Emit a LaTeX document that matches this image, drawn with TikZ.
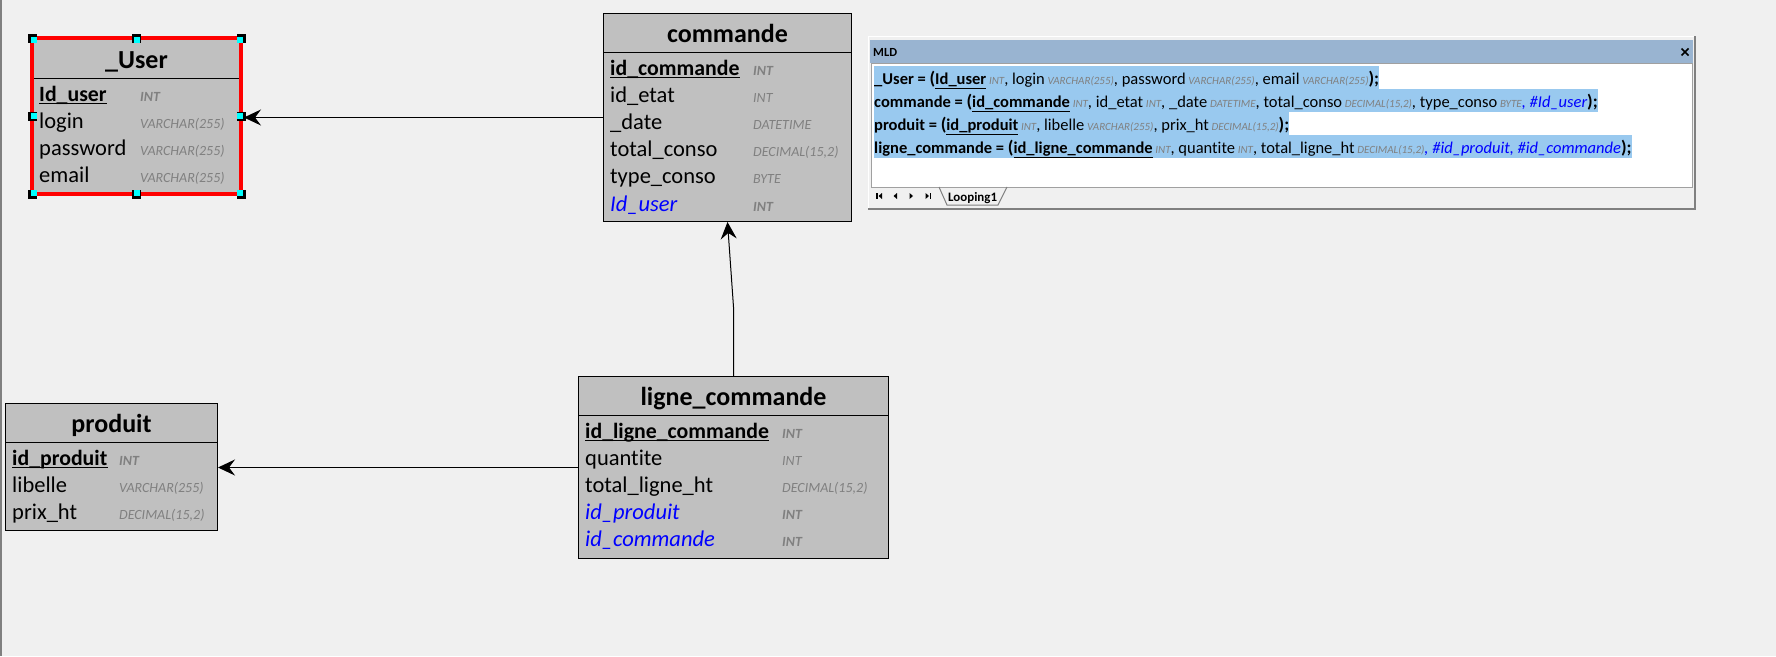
\documentclass[tikz,border=0pt]{standalone}
\usepackage{fontspec}
\setmainfont{Carlito}[Ligatures=NoCommon]
\usetikzlibrary{arrows.meta,calc}
\definecolor{bg}{HTML}{F0F0F0}
\definecolor{tgray}{HTML}{C0C0C0}
\definecolor{typegray}{HTML}{808080}
\definecolor{fkblue}{HTML}{0000FF}
\definecolor{selred}{HTML}{FF0000}
\definecolor{handlecyan}{HTML}{00FFFF}
\definecolor{titlebar}{HTML}{99B4D1}
\definecolor{hl}{HTML}{99C9EF}
\definecolor{framegray}{HTML}{808080}
\definecolor{boxgray}{HTML}{A0A0A0}
\newcommand\mty[1]{\,{\fontsize{11}{12}\selectfont\itshape\color{typegray}#1}}
\newcommand\mkey[1]{\underline{\textbf{#1}}}
\newcommand\mpar[1]{{\fontsize{18}{20}\selectfont\bfseries #1}}
\tikzset{
 tbl/.style={draw=black, line width=1pt, fill=tgray, inner sep=0pt, anchor=north west},
 ttl/.style={font=\fontsize{26}{30}\selectfont\bfseries, anchor=base, inner sep=0pt},
 fname/.style={font=\fontsize{22.5}{26}\selectfont, anchor=base west, inner sep=0pt},
 pkname/.style={font=\fontsize{21.8}{26}\selectfont\bfseries, anchor=base west, inner sep=0pt},
 fkname/.style={font=\fontsize{22.5}{26}\selectfont\itshape, text=fkblue, anchor=base west, inner sep=0pt},
 ftype/.style={font=\fontsize{14}{16}\selectfont\itshape, text=typegray, anchor=base west, inner sep=0pt},
 ktype/.style={font=\fontsize{14}{16}\selectfont\itshape\bfseries, text=typegray, anchor=base west, inner sep=0pt},
 pkline/.style={line width=1.4pt},
 rel/.style={draw=black, line width=1pt, -{Stealth[length=17pt,width=16pt,inset=6pt]}},
 mld/.style={font=\fontsize{16.5}{20}\selectfont, anchor=base west, inner sep=0pt, fill=hl, text height=18pt, text depth=5pt},
 navicon/.style={fill=black},
}
\begin{document}
\begin{tikzpicture}[x=1pt,y=-1pt]
\useasboundingbox (0,0) rectangle (1776,656);
\fill[bg] (0,0) rectangle (1776,656);
\draw[framegray, line width=2pt] (1.2,0) -- (1.2,656);

% ---------- _User ----------
\node[tbl, minimum width=208pt, minimum height=155pt] (user) at (32,38) {};
\draw[line width=1pt] ($(user.north west)+(0,40)$) -- ($(user.north east)+(0,40)$);
\node[ttl] (userT) at ($(user.north)+(0,30)$) {\_User};
\node[pkname] (u1) at (39,101) {Id\_user};
\draw[pkline] ($(u1.base west)+(0,2.5)$) -- ($(u1.base east)+(0,2.5)$);
\node[ktype] (u1t) at (140,101) {INT};
\node[fname] (u2) at (39,128.2) {login};
\node[ftype] (u2t) at (140,128.2) {VARCHAR(255)};
\node[fname] (u3) at (39,155.4) {password};
\node[ftype] (u3t) at (140,155.4) {VARCHAR(255)};
\node[fname] (u4) at (39,182.6) {email};
\node[ftype] (u4t) at (140,182.6) {VARCHAR(255)};
\draw[selred, line width=3.5pt] (user.north west) rectangle (user.south east);
\foreach \p/\dx/\dy in {north west/1/1, north/0/1, north east/-1/1, east/-1/0, south east/-1/-1, south/0/-1, south west/1/-1, west/1/0}{
  \fill[black] ($(user.\p)+(-4.5,-4.5)$) rectangle ++(9,9);
  \fill[handlecyan] ($(user.\p)+(\dx*1.5-3,\dy*1.5-3)$) rectangle ++(6,6);
}

% ---------- commande ----------
\node[tbl, minimum width=248pt, minimum height=208pt] (cmd) at (603,13) {};
\draw[line width=1pt] ($(cmd.north west)+(0,39)$) -- ($(cmd.north east)+(0,39)$);
\node[ttl] (cmdT) at ($(cmd.north)+(0,29)$) {commande};
\node[pkname] (c1) at (610,75) {id\_commande};
\draw[pkline] ($(c1.base west)+(0,2.5)$) -- ($(c1.base east)+(0,2.5)$);
\node[ktype] (c1t) at (753,75) {INT};
\node[fname] (c2) at (610,102.2) {id\_etat};
\node[ftype] (c2t) at (753,102.2) {INT};
\node[fname] (c3) at (610,129.4) {\_date};
\node[ftype] (c3t) at (753,129.4) {DATETIME};
\node[fname] (c4) at (610,156.6) {total\_conso};
\node[ftype] (c4t) at (753,156.6) {DECIMAL(15,2)};
\node[fname] (c5) at (610,183.8) {type\_conso};
\node[ftype] (c5t) at (753,183.8) {BYTE};
\node[fkname] (c6) at (610,211) {Id\_user};
\node[ktype] (c6t) at (753,211) {INT};

% ---------- produit ----------
\node[tbl, minimum width=212pt, minimum height=127pt] (prod) at (5,403) {};
\draw[line width=1pt] ($(prod.north west)+(0,39)$) -- ($(prod.north east)+(0,39)$);
\node[ttl] (prodT) at ($(prod.north)+(0,29)$) {produit};
\node[pkname] (p1) at (12,465) {id\_produit};
\draw[pkline] ($(p1.base west)+(0,2.5)$) -- ($(p1.base east)+(0,2.5)$);
\node[ktype] (p1t) at (119,465) {INT};
\node[fname] (p2) at (12,492.2) {libelle};
\node[ftype] (p2t) at (119,492.2) {VARCHAR(255)};
\node[fname] (p3) at (12,519.4) {prix\_ht};
\node[ftype] (p3t) at (119,519.4) {DECIMAL(15,2)};

% ---------- ligne_commande ----------
\node[tbl, minimum width=310pt, minimum height=182pt] (lc) at (578,376) {};
\draw[line width=1pt] ($(lc.north west)+(0,39)$) -- ($(lc.north east)+(0,39)$);
\node[ttl] (lcT) at ($(lc.north)+(0,29)$) {ligne\_commande};
\node[pkname] (l1) at (585,438) {id\_ligne\_commande};
\draw[pkline] ($(l1.base west)+(0,2.5)$) -- ($(l1.base east)+(0,2.5)$);
\node[ktype] (l1t) at (782,438) {INT};
\node[fname] (l2) at (585,465.2) {quantite};
\node[ftype] (l2t) at (782,465.2) {INT};
\node[fname] (l3) at (585,492.4) {total\_ligne\_ht};
\node[ftype] (l3t) at (782,492.4) {DECIMAL(15,2)};
\node[fkname] (l4) at (585,519.6) {id\_produit};
\node[ktype] (l4t) at (782,519.6) {INT};
\node[fkname] (l5) at (585,546.8) {id\_commande};
\node[ktype] (l5t) at (782,546.8) {INT};

% ---------- connectors ----------
\draw[rel] (cmd.west) -- ($(cmd.west -| user.east)+(3,0)$);
\draw[rel] (lc.north) -- ++(0,-69) -- (cmd.south);
\draw[rel] (lc.west) -- (lc.west -| prod.east);

% ---------- MLD panel ----------
\fill[bg] (868,36) rectangle (1696,210);
\draw[white, line width=1.5pt] (868.5,210) -- (868.5,36.5) -- (1696,36.5);
\draw[framegray, line width=2pt] (868,209) -- (1695,209) -- (1695,36);
\node[fill=titlebar, anchor=north west, minimum width=823pt, minimum height=23pt, inner sep=0pt] (mldbar) at (870,40) {};
\node[font=\fontsize{12.4}{14}\selectfont\bfseries, anchor=base west, inner sep=0pt] (mldT) at (873,56) {MLD};
\draw[line width=1.7pt] (1681.5,48.5) -- (1688.5,55.5) (1681.5,55.5) -- (1688.5,48.5);
\node[fill=white, draw=boxgray, line width=1pt, anchor=north west, minimum width=821pt, minimum height=124pt, inner sep=0pt] (mldbox) at (871,63) {};

\node[mld] (m1) at (874,84) {\textbf{\_User = }\mpar{(}\mkey{Id\_user}\mty{INT}, login\mty{VARCHAR(255)}, password\mty{VARCHAR(255)}, email\mty{VARCHAR(255)}\mpar{);}};
\node[mld] (m2) at (874,107) {\textbf{commande = }\mpar{(}\mkey{id\_commande}\mty{INT}, id\_etat\mty{INT}, \_date\mty{DATETIME}, total\_conso\mty{DECIMAL(15,2)}, type\_conso\mty{BYTE}{\color{fkblue}\itshape, \#Id\_user}\mpar{);}};
\node[mld] (m3) at (874,130) {\textbf{produit = }\mpar{(}\mkey{id\_produit}\mty{INT}, libelle\mty{VARCHAR(255)}, prix\_ht\mty{DECIMAL(15,2)}\mpar{);}};
\node[mld] (m4) at (874,153) {\textbf{ligne\_commande = }\mpar{(}\mkey{id\_ligne\_commande}\mty{INT}, quantite\mty{INT}, total\_ligne\_ht\mty{DECIMAL(15,2)}{\color{fkblue}\itshape, \#id\_produit, \#id\_commande}\mpar{);}};

% bottom bar
\fill[navicon] (876,193) rectangle (877.5,199);
\fill[navicon] (882,193) -- (878.5,196) -- (882,199) -- cycle;
\fill[navicon] (897,193) -- (893.5,196) -- (897,199) -- cycle;
\fill[navicon] (909.5,193) -- (913,196) -- (909.5,199) -- cycle;
\fill[navicon] (925.5,193) -- (929,196) -- (925.5,199) -- cycle;
\fill[navicon] (929.5,193) rectangle (931,199);
\draw[framegray, line width=1pt] (939,187) -- (947,205) -- (998,205) -- (1007,187);
\node[font=\fontsize{12.9}{15}\selectfont\bfseries, anchor=base west, inner sep=0pt] (tab) at (948,201) {Looping1};
\end{tikzpicture}
\end{document}
